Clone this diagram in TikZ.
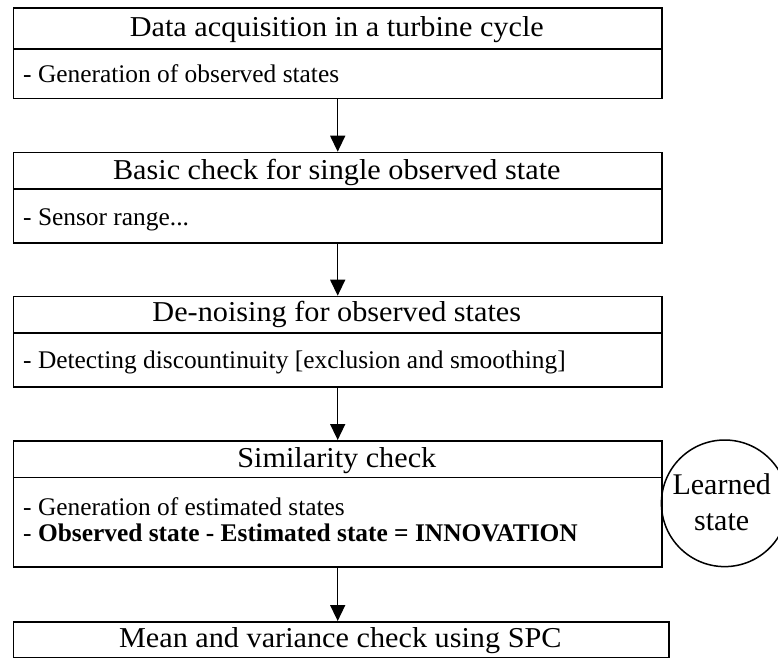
\documentclass[tikz,border=0pt]{standalone}
\usepackage{fontspec}
\setmainfont{Liberation Serif}
\newfontfamily\headfont[FakeStretch=1.05]{Liberation Serif}
\usetikzlibrary{arrows.meta}

\tikzset{
  frame/.style={draw, line width=1.5pt, rectangle, inner sep=0pt, anchor=north west},
  headtext/.style={anchor=base, inner sep=0pt, font=\headfont\fontsize{28.8}{32}\selectfont},
  itemtext/.style={anchor=base west, inner sep=0pt, font=\fontsize{25.4}{30}\selectfont},
  flow/.style={line width=1.5pt, -{Triangle[length=16pt,width=15pt]}},
}

\begin{document}
\begin{tikzpicture}[x=1pt, y=-1pt]
  \useasboundingbox (0,0) rectangle (778,657);
  \clip (0,0) rectangle (778,657);

  % stage 1
  \node[frame, minimum width=648.3pt, minimum height=40.7pt] (h1) at (12.7,7.3) {};
  \node[frame, minimum width=648.3pt, minimum height=49.7pt] (b1) at (12.7,48) {};
  \node[headtext] (h1t) at (336.8,36.7) {Data acquisition in a turbine cycle};
  \node[itemtext] (b1t) at (23,82.5) {- Generation of observed states};

  % stage 2
  \node[frame, minimum width=648.3pt, minimum height=36.6pt] (h2) at (12.7,151.7) {};
  \node[frame, minimum width=648.3pt, minimum height=54pt] (b2) at (12.7,188.3) {};
  \node[headtext] (h2t) at (336.8,179) {Basic check for single observed state};
  \node[itemtext] (b2t) at (23,225) {- Sensor range...};

  % stage 3
  \node[frame, minimum width=648.3pt, minimum height=36.6pt] (h3) at (12.7,295.7) {};
  \node[frame, minimum width=648.3pt, minimum height=53.7pt] (b3) at (12.7,332.3) {};
  \node[headtext] (h3t) at (336.8,321.7) {De-noising for observed states};
  \node[itemtext] (b3t) at (23,368) {- Detecting discountinuity [exclusion and smoothing]};

  % stage 4
  \node[frame, minimum width=648.3pt, minimum height=36.7pt] (h4) at (12.7,440) {};
  \node[frame, minimum width=648.3pt, minimum height=89.3pt] (b4) at (12.7,476.7) {};
  \node[headtext] (h4t) at (336.8,467.3) {Similarity check};
  \node[itemtext] (b4a) at (23,515) {- Generation of estimated states};
  \node[itemtext] (b4b) at (23,541.7) {- \textbf{Observed state - Estimated state = INNOVATION}};

  % stage 5
  \node[frame, minimum width=655.3pt, minimum height=35.7pt] (h5) at (12.7,621) {};
  \node[headtext] (h5t) at (340.3,647.3) {Mean and variance check using SPC};

  % reference set
  \node[draw, circle, line width=1.5pt, minimum size=126.6pt, inner sep=0pt] (ls) at (724.7,503.3) {};
  \node[anchor=base, inner sep=0pt, font=\fontsize{30}{34}\selectfont] (ls1) at (721.7,494) {Learned};
  \node[anchor=base, inner sep=0pt, font=\fontsize{30}{34}\selectfont] (ls2) at (721.7,530) {state};

  % flow between stages
  \draw[flow] (b1.south -| 337.7,0) -- (h2.north -| 337.7,0);
  \draw[flow] (b2.south -| 337.7,0) -- (h3.north -| 337.7,0);
  \draw[flow] (b3.south -| 337.7,0) -- (h4.north -| 337.7,0);
  \draw[flow] (b4.south -| 337.7,0) -- (h5.north -| 337.7,0);
\end{tikzpicture}
\end{document}
